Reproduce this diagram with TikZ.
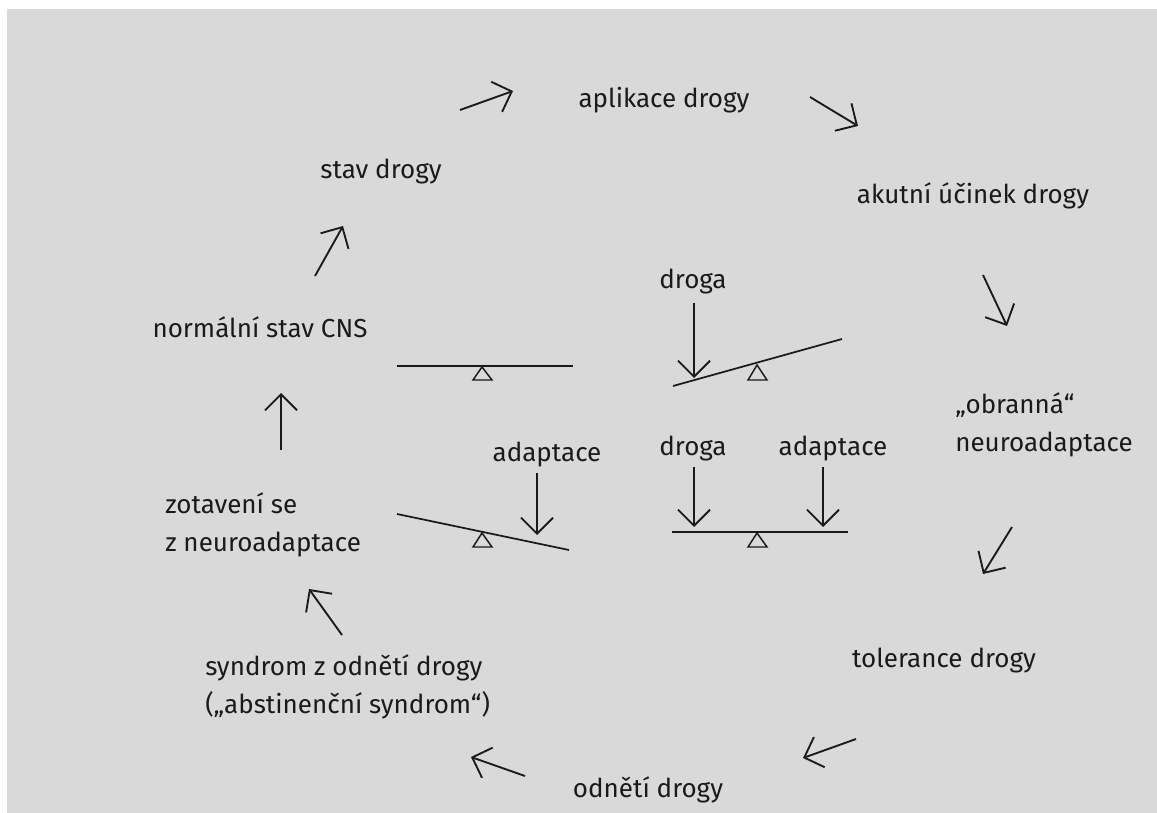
\documentclass[tikz,border=0pt]{standalone}
\usepackage{fontspec}
\setmainfont{Fira Sans}
\usetikzlibrary{arrows.meta}

\definecolor{ink}{HTML}{1A1A1A}
\definecolor{paper}{HTML}{D9D9D9}
\tikzset{
  lbl/.style={font=\fontsize{19.5}{28.5}\selectfont, text=ink, inner sep=0pt},
  cyc/.style={draw=ink, line width=1.4pt, -{Straight Barb[length=12pt,width=24pt]}},
  beam/.style={draw=ink, line width=1.3pt},
  pivot/.style={draw=ink, line width=1.1pt, line join=miter}
}

\begin{document}
\begin{tikzpicture}[x=0.75pt,y=0.75pt,yscale=-1]
\useasboundingbox (0,0) rectangle (1157,813);
\fill[white] (0,0) rectangle (1157,813);
\fill[paper] (7,9) rectangle (1157,813);

%Text: cycle
\node[lbl] (aplikace) at (664,100) {aplikace drogy};
\node[lbl] (stav) at (381,172) {stav drogy};
\node[lbl] (akutni) at (973,196) {akutní účinek drogy};
\node[lbl] (normalni) at (260,327) {normální stav CNS};
\node[lbl, anchor=west, align=left] (obranna) at (955,425) {„obranná“\\neuroadaptace};
\node[lbl, anchor=west, align=left] (zotaveni) at (165,525) {zotavení se\\z neuroadaptace};
\node[lbl] (tolerance) at (944,661) {tolerance drogy};
\node[lbl, anchor=west, align=left] (syndrom) at (205,687) {syndrom z odnětí drogy\\(„abstinenční syndrom“)};
\node[lbl] (odneti) at (648,790) {odnětí drogy};

%Straight Lines: cycle arrows
\coordinate (s1) at (460,110); \coordinate (e1) at (513,91);
\coordinate (s2) at (810,97);  \coordinate (e2) at (858,126);
\coordinate (s3) at (983,275); \coordinate (e3) at (1007,326);
\coordinate (s4) at (1012,527); \coordinate (e4) at (983,574);
\coordinate (s5) at (856,739); \coordinate (e5) at (803,758);
\coordinate (s6) at (525,776); \coordinate (e6) at (471,757);
\coordinate (s7) at (342,635); \coordinate (e7) at (309,589);
\coordinate (s8) at (281,450); \coordinate (e8) at (281,393);
\coordinate (s9) at (315,276); \coordinate (e9) at (343,226);
\foreach \i in {1,...,9}
  \draw[cyc] (s\i) -- (e\i);

%Shape: balance, level
\draw[beam] (397,366) -- (573,366);
\draw[pivot] (482,367) -- (473,380) -- (492,380) -- cycle;

%Shape: balance, tipped by drug
\draw[beam] (673,386) -- (842,339);
\draw[pivot] (757,365) -- (748,380) -- (767,380) -- cycle;
\node[lbl] (drogaA) at (693,282) {droga};
\coordinate (hitA) at (694,378);
\draw[cyc, shorten <=6pt] (hitA |- drogaA.south) -- (hitA);

%Shape: balance, tipped by adaptation
\draw[beam] (397,514) -- (569,550);
\draw[pivot] (482,533) -- (473,547) -- (492,547) -- cycle;
\node[lbl] (adaptA) at (547,455) {adaptace};
\coordinate (hitB) at (537,535);
\draw[cyc, shorten <=4pt] (hitB |- adaptA.south) -- (hitB);

%Shape: balance, drug and adaptation
\draw[beam] (672,532) -- (848,532);
\draw[pivot] (757,533) -- (748,547) -- (767,547) -- cycle;
\node[lbl] (drogaB) at (693,449) {droga};
\node[lbl] (adaptB) at (833,449) {adaptace};
\coordinate (hitC) at (694,527);
\coordinate (hitD) at (823,527);
\draw[cyc, shorten <=4pt] (hitC |- drogaB.south) -- (hitC);
\draw[cyc, shorten <=4pt] (hitD |- adaptB.south) -- (hitD);

\end{tikzpicture}
\end{document}
